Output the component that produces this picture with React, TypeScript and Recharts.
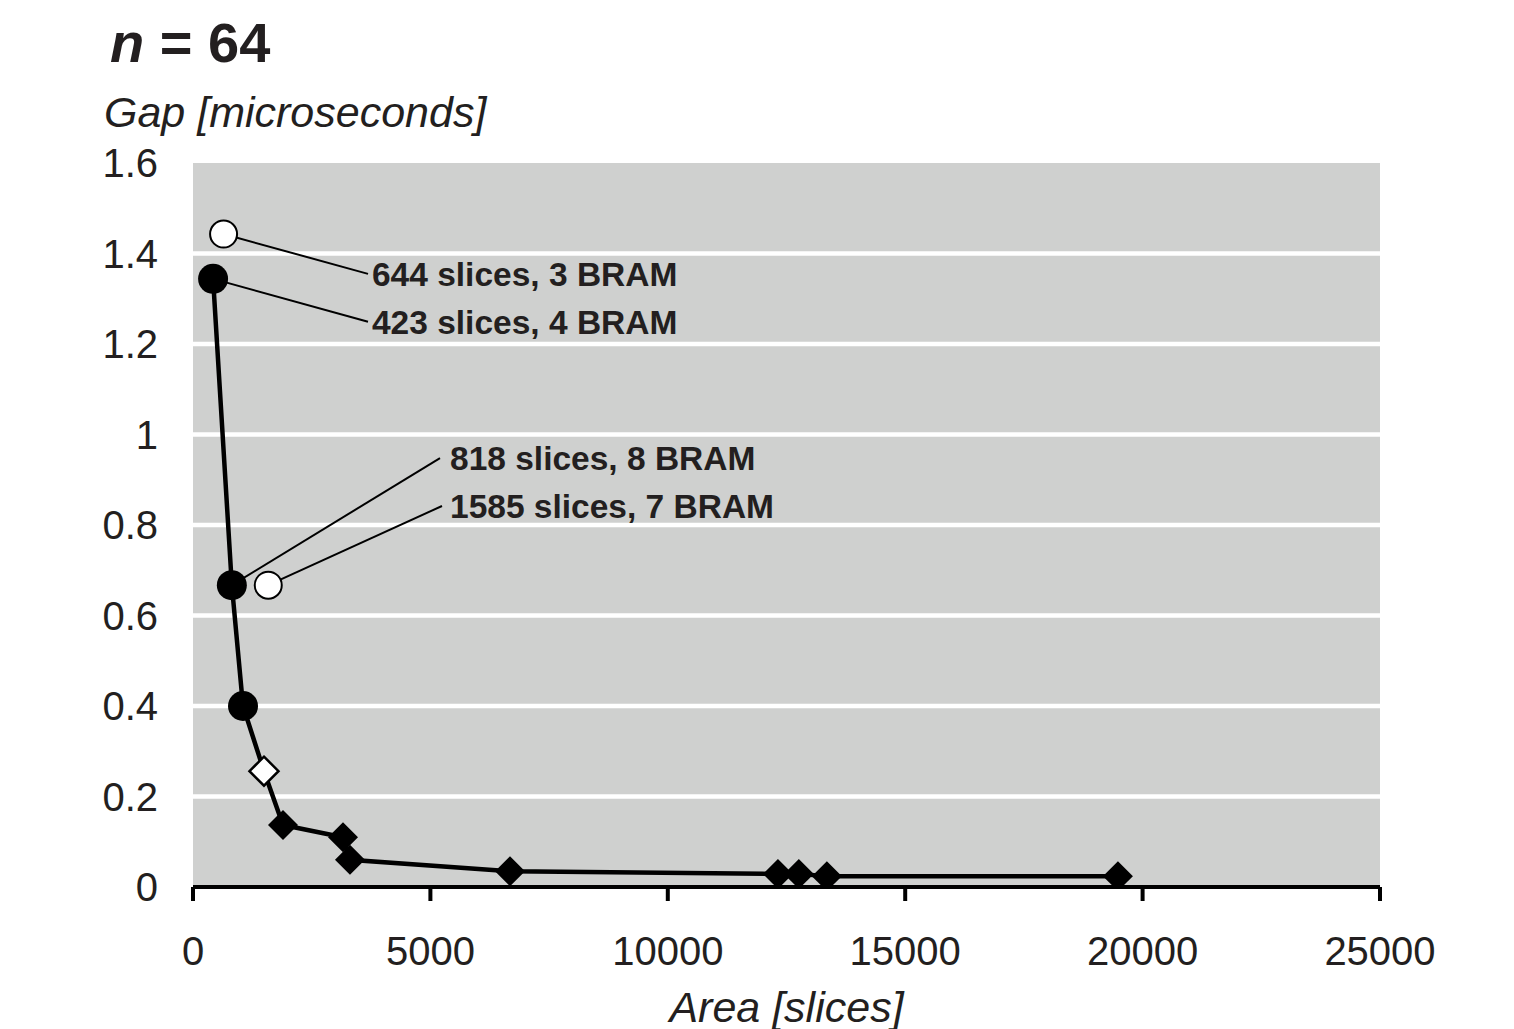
import { ComposedChart, Scatter, XAxis, YAxis, CartesianGrid } from "recharts"

// Pareto front (line): area [slices] vs gap [microseconds]
const frontArea = [423, 818, 1053, 1495, 1895, 3159, 3306, 6676, 12320, 12760, 13350, 19480]
const frontGap = [1.344, 0.667, 0.4, 0.256, 0.137, 0.11, 0.06, 0.035, 0.029, 0.029, 0.024, 0.024]

// markers per design family
const filledCircleArea = [423, 818, 1053]
const filledCircleGap = [1.344, 0.667, 0.4]
const openCircleArea = [644, 1585]
const openCircleGap = [1.443, 0.667]
const openDiamondArea = [1495]
const openDiamondGap = [0.256]
const filledDiamondArea = [1895, 3159, 3306, 6676, 12320, 12760, 13350, 19480]
const filledDiamondGap = [0.137, 0.11, 0.06, 0.035, 0.029, 0.029, 0.024, 0.024]

// callouts: point, end of leader, start of text
const calloutText = ["644 slices, 3 BRAM", "423 slices, 4 BRAM", "818 slices, 8 BRAM", "1585 slices, 7 BRAM"]
const calloutFrom = [[644, 1.443], [423, 1.344], [818, 0.667], [1585, 0.667]]
const calloutTo = [[3686, 1.355], [3686, 1.249], [5202, 0.948], [5244, 0.842]]
const calloutTextX = [3770, 3770, 5413, 5413]

const xTicks = [0, 5000, 10000, 15000, 20000, 25000]
const yTicks = [0, 0.2, 0.4, 0.6, 0.8, 1, 1.2, 1.4, 1.6]
const gridValues = [0.2, 0.4, 0.6, 0.8, 1, 1.2, 1.4]

const pts = (xs: number[], ys: number[]) => xs.map((x, i) => ({ x, y: ys[i] }))

const FONT = '"Liberation Sans", Arial, sans-serif'
const INK = "#231f20"

const FilledCircle = (p: any) => <circle cx={p.cx} cy={p.cy} r={15} fill="#000" />
const OpenCircle = (p: any) => <circle cx={p.cx} cy={p.cy} r={13.5} fill="#fff" stroke="#000" strokeWidth={2} />
const diamond = (cx: number, cy: number, h: number) =>
  `M${cx},${cy - h} L${cx + h},${cy} L${cx},${cy + h} L${cx - h},${cy} Z`
const FilledDiamond = (p: any) => <path d={diamond(p.cx, p.cy, 15)} fill="#000" />
const OpenDiamond = (p: any) => <path d={diamond(p.cx, p.cy, 14.5)} fill="#fff" stroke="#000" strokeWidth={2.5} />
const NoDot = () => null
const LabelText = (p: any) => (
  <text x={p.cx} y={p.cy} dy="0.36em" fontFamily={FONT} fontWeight="bold" fontSize={33.5} fill={INK}>
    {p.payload.text}
  </text>
)

export default function App() {
  const labels = calloutText.map((text, i) => ({ x: calloutTextX[i], y: calloutTo[i][1], text }))
  return (
    <div style={{ position: "absolute", left: 0, top: 0, width: 1514, height: 1029, background: "#fff", fontFamily: FONT }}>
      <div style={{ position: "absolute", left: 110, top: 15, fontSize: 56, fontWeight: "bold", lineHeight: 1, color: INK, whiteSpace: "nowrap" }}>
        <i>n</i> = 64
      </div>
      <div style={{ position: "absolute", left: 104, top: 91, fontSize: 43, fontStyle: "italic", lineHeight: 1, color: INK, whiteSpace: "nowrap" }}>
        Gap [microseconds]
      </div>
      <div style={{ position: "absolute", left: 193, width: 1187, top: 986, textAlign: "center", fontSize: 43, fontStyle: "italic", lineHeight: 1, color: INK }}>
        Area [slices]
      </div>
      <ComposedChart width={1514} height={1029} margin={{ top: 163, right: 134, bottom: 0, left: 0 }}>
        <CartesianGrid vertical={false} horizontalValues={gridValues} stroke="#fff" strokeWidth={4.5} fill="#cfd0cf" fillOpacity={1} />
        <XAxis
          type="number"
          dataKey="x"
          domain={[0, 25000]}
          ticks={xTicks}
          height={142}
          axisLine={{ stroke: "#000", strokeWidth: 4 }}
          tickLine={{ stroke: "#000", strokeWidth: 4 }}
          tickSize={14}
          tickMargin={36}
          tick={{ fontSize: 40, fill: INK, fontFamily: FONT }}
          allowDataOverflow
        />
        <YAxis
          type="number"
          dataKey="y"
          domain={[0, 1.6]}
          ticks={yTicks}
          width={193}
          axisLine={false}
          tickLine={false}
          tickSize={0}
          tickMargin={35}
          tick={{ fontSize: 40, fill: INK, fontFamily: FONT }}
          allowDataOverflow
        />
        {calloutFrom.map((from, i) => (
          <Scatter
            key={"lead" + i}
            data={[{ x: from[0], y: from[1] }, { x: calloutTo[i][0], y: calloutTo[i][1] }]}
            line={{ stroke: "#000", strokeWidth: 2 }}
            shape={NoDot}
            isAnimationActive={false}
          />
        ))}
        <Scatter data={pts(frontArea, frontGap)} line={{ stroke: "#000", strokeWidth: 4.5 }} shape={NoDot} isAnimationActive={false} />
        <Scatter data={pts(filledCircleArea, filledCircleGap)} shape={FilledCircle} isAnimationActive={false} />
        <Scatter data={pts(openCircleArea, openCircleGap)} shape={OpenCircle} isAnimationActive={false} />
        <Scatter data={pts(filledDiamondArea, filledDiamondGap)} shape={FilledDiamond} isAnimationActive={false} />
        <Scatter data={pts(openDiamondArea, openDiamondGap)} shape={OpenDiamond} isAnimationActive={false} />
        <Scatter data={labels} shape={LabelText} isAnimationActive={false} />
      </ComposedChart>
    </div>
  )
}
